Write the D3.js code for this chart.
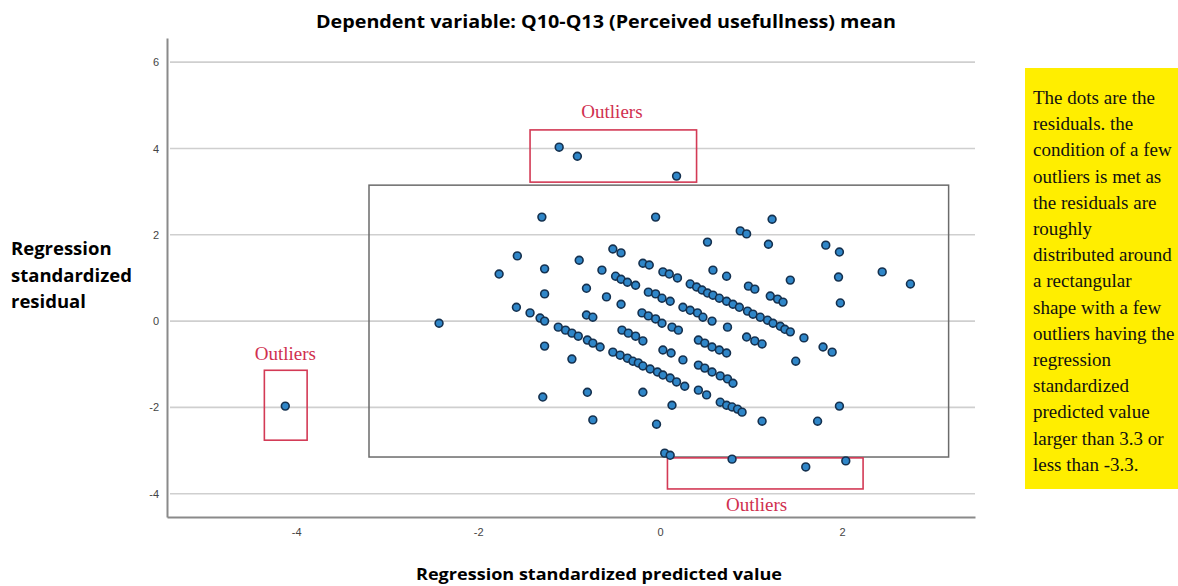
<!DOCTYPE html>
<html>
<head>
<meta charset="utf-8">
<script src="https://cdn.jsdelivr.net/npm/d3@7"></script>
<style>
  body { margin: 0; background: #fff; }
  svg { display: block; }
</style>
</head>
<body>
<div id="chart"></div>
<script>
// Regression standardized predicted value (x) and standardized residual (y)
var predicted = [-1.11,-0.91,0.18,-4.12,-2.43,-1.30,-0.05,-1.57,-1.77,-1.27,
  -0.89,-0.52,-0.43,-0.64,-0.49,-0.43,-0.36,-0.27,-0.19,-0.12,
  -1.27,-0.81,-0.59,-0.43,-0.13,-0.05,0.02,0.11,-1.58,-1.43,
  -1.32,-1.27,-0.81,-0.74,-0.20,-0.13,-0.05,0.02,
  -1.12,-1.04,-0.97,-0.90,-0.80,-0.74,-0.66,-0.42,-0.35,-0.27,
  -0.19,-1.27,-0.97,-0.52,-0.44,-0.36,-0.30,-0.24,-0.19,-0.11,
  -0.03,0.03,0.11,0.18,-1.29,-0.80,-0.19,-0.74,-0.04,
  0.03,0.10,0.19,0.52,0.88,0.95,1.19,1.23,0.58,0.73,
  1.43,0.97,1.04,0.33,0.40,0.46,0.52,0.58,0.65,0.73,
  0.80,0.87,1.21,1.29,1.35,0.25,0.33,0.41,0.47,0.57,
  0.96,1.02,1.10,1.18,1.24,1.32,1.37,1.43,0.13,0.20,
  0.74,1.58,0.95,1.04,1.12,0.03,0.12,0.25,0.42,0.49,
  0.57,0.65,0.73,1.49,0.42,0.49,0.57,0.66,0.74,0.80,
  0.27,0.42,0.51,0.13,0.66,0.73,0.79,0.85,0.90,1.12,
  1.79,1.89,1.97,1.73,1.82,1.97,1.96,1.98,2.44,2.75,
  0.05,0.11,0.79,1.60,2.04];
var residual = [4.03,3.82,3.36,-1.97,-0.05,2.41,2.41,1.51,1.09,1.21,
  1.41,1.67,1.58,1.18,1.04,0.97,0.90,0.83,1.34,1.30,
  0.63,0.76,0.56,0.39,0.67,0.63,0.53,0.46,0.32,0.19,
  0.07,0.00,0.14,0.09,0.19,0.12,0.05,-0.05,
  -0.14,-0.21,-0.28,-0.35,-0.44,-0.51,-0.60,-0.21,-0.28,-0.35,
  -0.46,-0.58,-0.88,-0.72,-0.79,-0.86,-0.93,-0.97,-1.04,-1.11,
  -1.18,-1.25,-1.32,-1.41,-1.76,-1.65,-1.65,-2.29,-2.39,
  1.14,1.09,1.00,1.83,2.09,2.02,1.78,2.36,1.18,1.04,
  0.95,0.81,0.74,0.86,0.79,0.72,0.65,0.60,0.53,0.46,
  0.39,0.32,0.58,0.51,0.44,0.32,0.25,0.19,0.09,0.00,
  0.23,0.16,0.09,0.02,-0.05,-0.12,-0.19,-0.25,-0.14,-0.21,
  -0.14,-0.39,-0.37,-0.46,-0.53,-0.67,-0.74,-0.90,-0.44,-0.51,
  -0.60,-0.67,-0.74,-0.93,-1.02,-1.09,-1.18,-1.27,-1.34,-1.44,
  -1.51,-1.60,-1.71,-1.95,-1.88,-1.95,-1.99,-2.04,-2.11,-2.32,
  -0.60,-0.72,-1.97,-2.32,1.76,1.60,1.02,0.42,1.14,0.86,
  -3.06,-3.11,-3.20,-3.38,-3.24];

var xTicks = [-4, -2, 0, 2];
var yTicks = [-4, -2, 0, 2, 4, 6];

// main rectangle of residuals and the three outlier boxes [x1, x2, y1, y2]
var mainBox = [-3.2, 3.17, 3.15, -3.15];
var outlierBoxes = [
  [-1.43, 0.40, 4.43, 3.22],
  [-4.35, -3.88, -1.14, -2.76],
  [0.08, 2.23, -3.17, -3.89]
];
// label anchor for each outlier box
var outlierLabels = [[-0.53, 4.80], [-4.12, -0.79], [1.06, -4.30]];

var noteLines = ["The dots are the", "residuals. the", "condition of a few",
  "outliers is met as", "the residuals are", "roughly", "distributed around",
  "a rectangular", "shape with a few", "outliers having the", "regression",
  "standardized", "predicted value", "larger than 3.3 or", "less than -3.3."];

var w = 1178;
var h = 586;

var svg = d3.select("#chart").append("svg")
  .attr("width", w)
  .attr("height", h);

var xScale = d3.scaleLinear().domain([-5.42, 3.46]).range([167, 975]);
var yScale = d3.scaleLinear().domain([-4.54, 6.56]).range([517, 38]);

// grid lines
svg.append("g")
  .selectAll("line")
  .data(yTicks)
  .enter()
  .append("line")
  .attr("x1", 170)
  .attr("x2", 975)
  .attr("y1", function (d) { return yScale(d); })
  .attr("y2", function (d) { return yScale(d); })
  .attr("stroke", "#cfcfcf")
  .attr("stroke-width", 1.6);

// axes (hyphen minus like the original)
var fmt = function (d) { return String(d); };
var yAxis = svg.append("g")
  .attr("transform", "translate(167,0)")
  .call(d3.axisLeft(yScale).tickValues(yTicks).tickFormat(fmt).tickSize(0).tickPadding(8));
var xAxis = svg.append("g")
  .attr("transform", "translate(0,517)")
  .call(d3.axisBottom(xScale).tickValues(xTicks).tickFormat(fmt).tickSize(0).tickPadding(11));
[xAxis, yAxis].forEach(function (a) {
  a.select(".domain").attr("stroke", "#8a8a8a").attr("stroke-width", 2);
  a.selectAll("text")
    .attr("fill", "#444")
    .style("font-family", "Liberation Sans, Arial, sans-serif")
    .style("font-size", "11px");
});

// rectangle around most residuals
svg.append("rect")
  .attr("x", xScale(mainBox[0]))
  .attr("y", yScale(mainBox[2]))
  .attr("width", xScale(mainBox[1]) - xScale(mainBox[0]))
  .attr("height", yScale(mainBox[3]) - yScale(mainBox[2]))
  .attr("fill", "none")
  .attr("stroke", "#6b6b6b")
  .attr("stroke-width", 1.5);

// outlier boxes
svg.append("g")
  .selectAll("rect")
  .data(outlierBoxes)
  .enter()
  .append("rect")
  .attr("x", function (d) { return xScale(d[0]); })
  .attr("y", function (d) { return yScale(d[2]); })
  .attr("width", function (d) { return xScale(d[1]) - xScale(d[0]); })
  .attr("height", function (d) { return yScale(d[3]) - yScale(d[2]); })
  .attr("fill", "none")
  .attr("stroke", "#d33a55")
  .attr("stroke-width", 1.6);

svg.append("g")
  .selectAll("text")
  .data(outlierLabels)
  .enter()
  .append("text")
  .attr("x", function (d) { return xScale(d[0]); })
  .attr("y", function (d) { return yScale(d[1]); })
  .attr("text-anchor", "middle")
  .attr("dominant-baseline", "middle")
  .attr("fill", "#d0304f")
  .style("font-family", "Liberation Serif, serif")
  .style("font-size", "19px")
  .text("Outliers");

// the residual dots
var points = predicted.map(function (p, i) { return [p, residual[i]]; });
svg.append("g")
  .selectAll("circle")
  .data(points)
  .enter()
  .append("circle")
  .attr("cx", function (d) { return xScale(d[0]); })
  .attr("cy", function (d) { return yScale(d[1]); })
  .attr("r", 3.9)
  .attr("fill", "#2f86c8")
  .attr("stroke", "#15314f")
  .attr("stroke-width", 1.6);

// titles
svg.append("text")
  .attr("x", 606)
  .attr("y", 28)
  .attr("text-anchor", "middle")
  .attr("textLength", 580)
  .attr("lengthAdjust", "spacingAndGlyphs")
  .style("font-family", "Open Sans, sans-serif")
  .style("font-weight", "bold")
  .style("font-size", "17px")
  .text("Dependent variable: Q10-Q13 (Perceived usefullness) mean");

svg.append("text")
  .attr("x", 599)
  .attr("y", 580)
  .attr("text-anchor", "middle")
  .attr("textLength", 366)
  .attr("lengthAdjust", "spacingAndGlyphs")
  .style("font-family", "Open Sans, sans-serif")
  .style("font-weight", "bold")
  .style("font-size", "16.5px")
  .text("Regression standardized predicted value");

svg.append("text")
  .style("font-family", "Open Sans, sans-serif")
  .style("font-weight", "bold")
  .style("font-size", "18.5px")
  .selectAll("tspan")
  .data(["Regression", "standardized", "residual"])
  .enter()
  .append("tspan")
  .attr("x", 11)
  .attr("y", function (d, i) { return 255 + i * 26.5; })
  .text(function (d) { return d; });

// yellow note on the right
svg.append("rect")
  .attr("x", 1025)
  .attr("y", 68)
  .attr("width", 160)
  .attr("height", 421)
  .attr("fill", "#ffee00");

svg.append("text")
  .style("font-family", "Liberation Serif, serif")
  .style("font-size", "19px")
  .attr("fill", "#111")
  .selectAll("tspan")
  .data(noteLines)
  .enter()
  .append("tspan")
  .attr("x", 1033)
  .attr("y", function (d, i) { return 104 + i * 26.2; })
  .text(function (d) { return d; });
</script>
</body>
</html>
